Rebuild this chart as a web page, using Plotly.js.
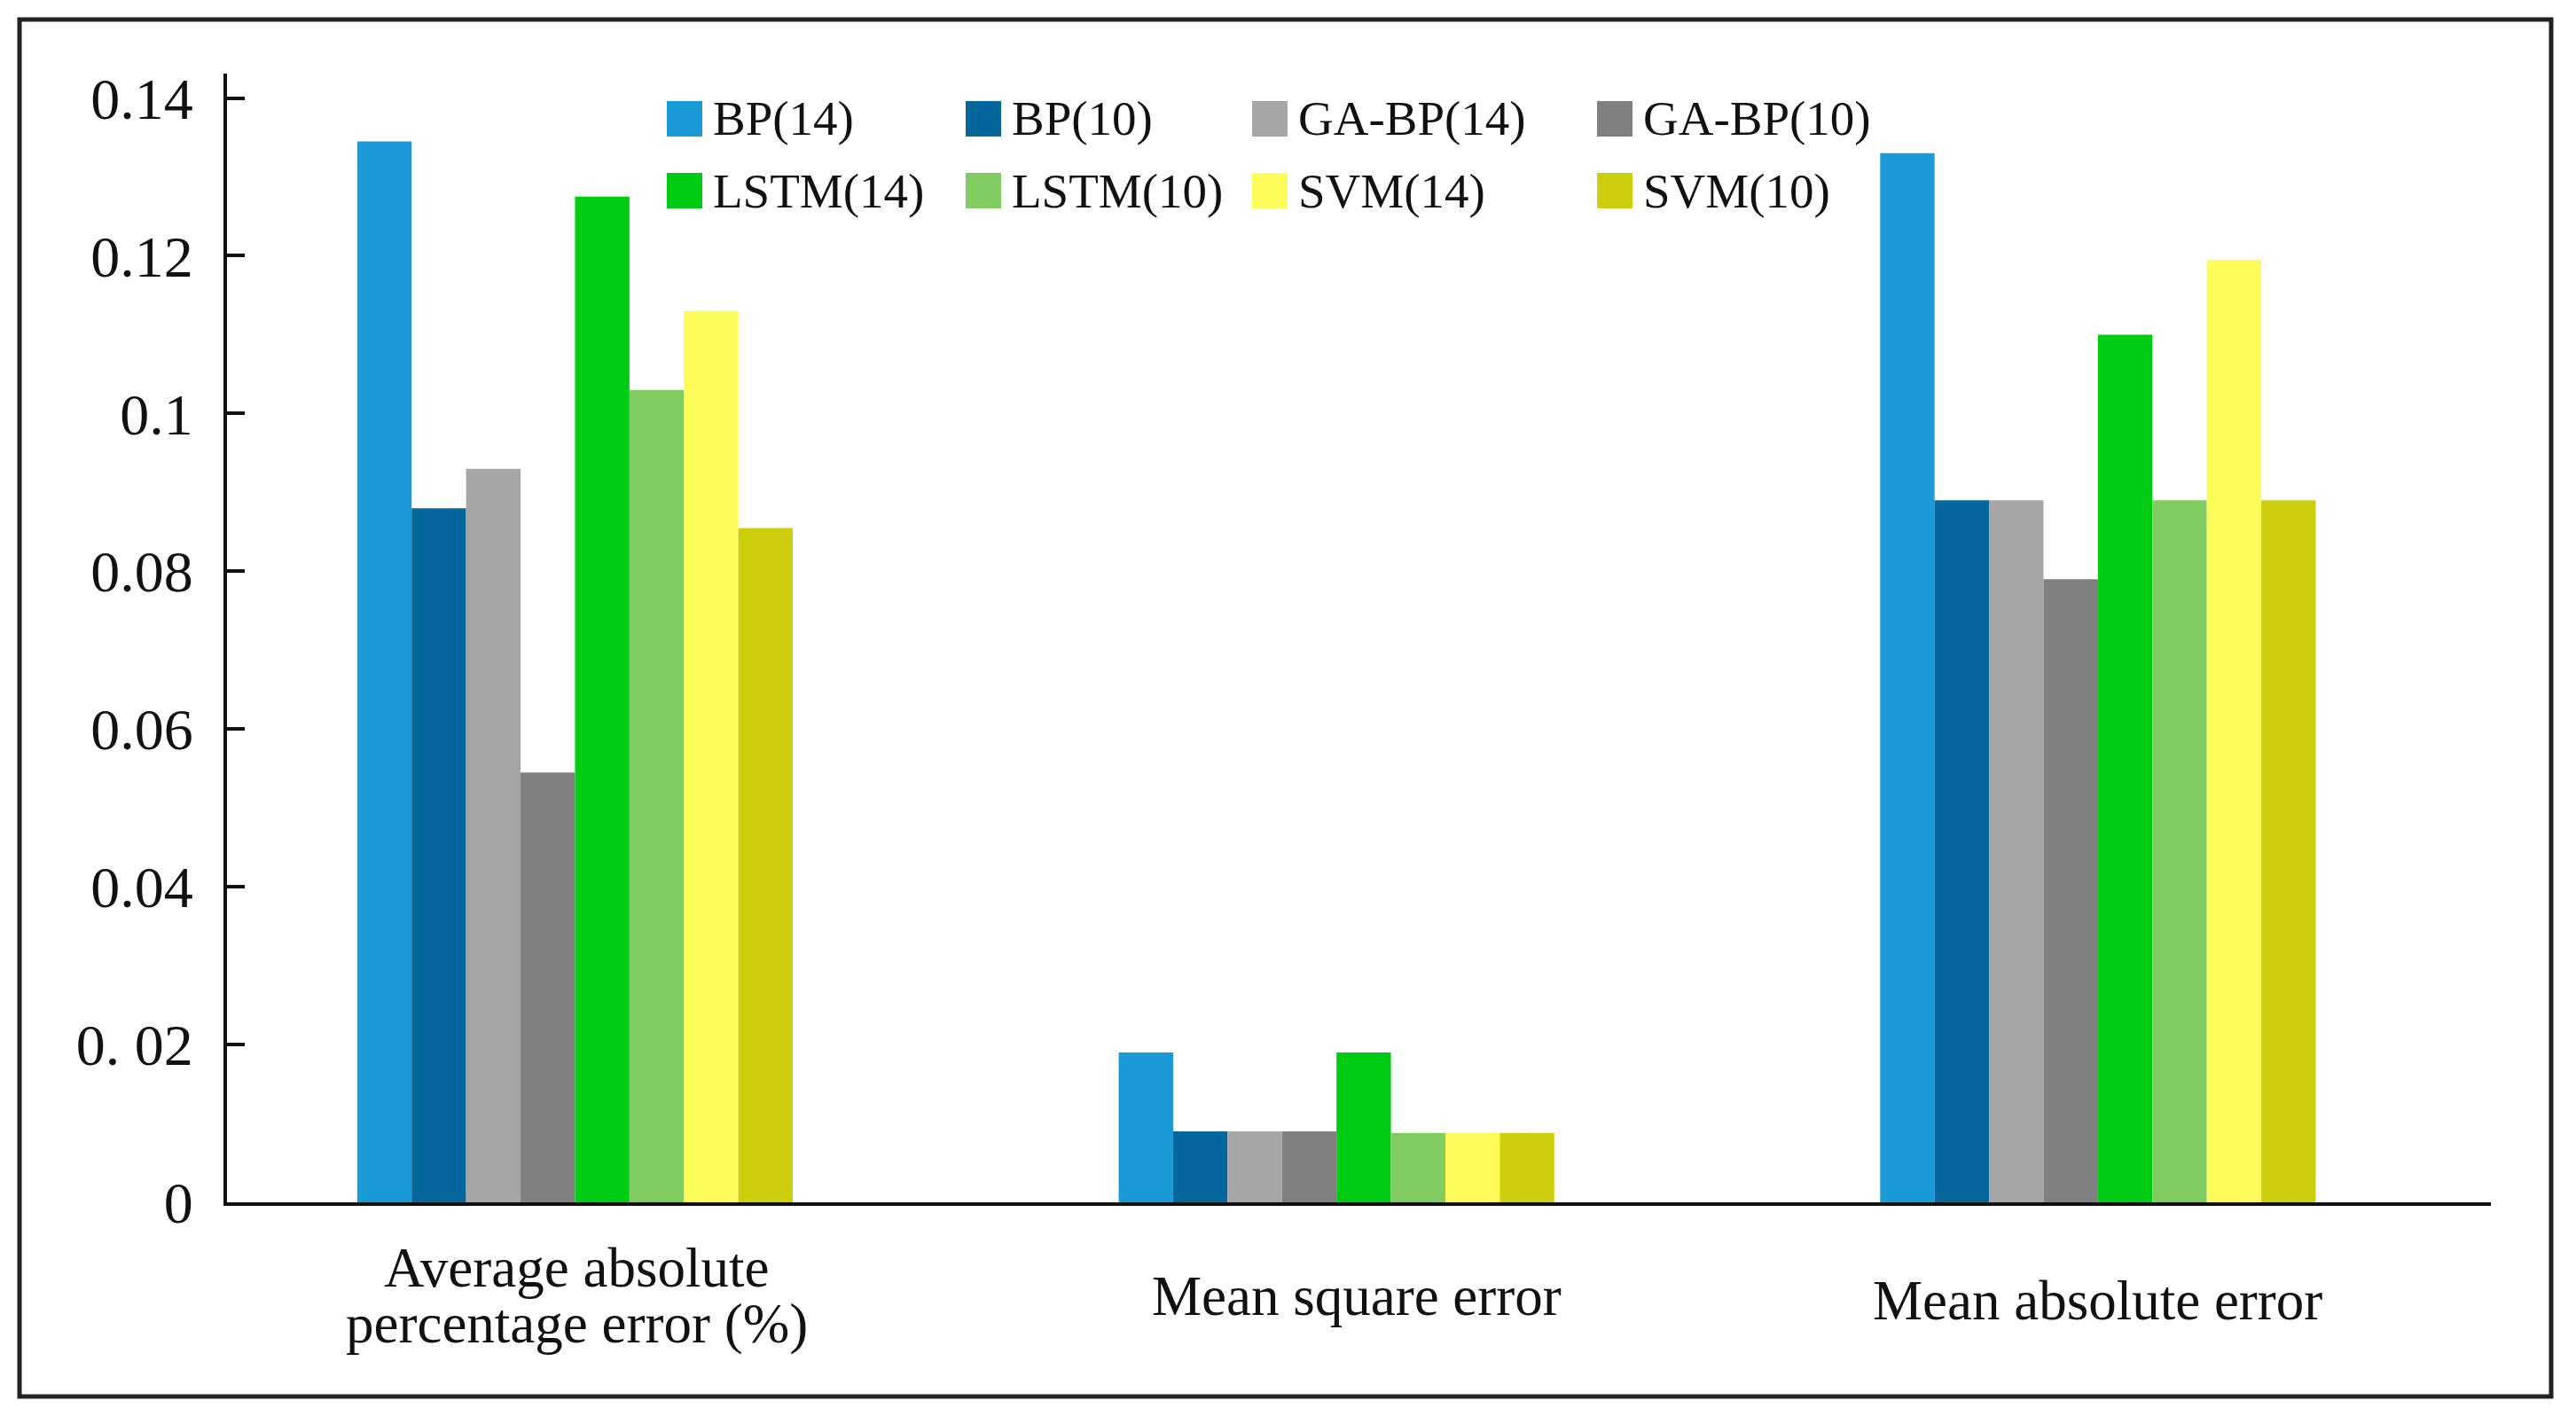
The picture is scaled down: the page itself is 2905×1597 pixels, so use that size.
<!DOCTYPE html>
<html>
<head>
<meta charset="utf-8">
<script src="https://cdn.plot.ly/plotly-3.0.1.min.js"></script>
<style>html,body{margin:0;padding:0;background:#fff;}#chart{width:2905px;height:1597px;}</style>
</head>
<body>
<div id="chart"></div>
<script>
// ---- data ----
const categories = ["Average absolute<br>percentage error (%)", "Mean square error", "Mean absolute error"];
const seriesNames = ["BP(14)", "BP(10)", "GA-BP(14)", "GA-BP(10)", "LSTM(14)", "LSTM(10)", "SVM(14)", "SVM(10)"];
const bp14    = [0.1345, 0.019, 0.133];
const bp10    = [0.088, 0.009, 0.089];
const gabp14  = [0.093, 0.009, 0.089];
const gabp10  = [0.0545, 0.009, 0.079];
const lstm14  = [0.1275, 0.019, 0.110];
const lstm10  = [0.103, 0.0088, 0.089];
const svm14   = [0.113, 0.0088, 0.1195];
const svm10   = [0.0855, 0.0088, 0.089];
const yTickVals = [0, 0.02, 0.04, 0.06, 0.08, 0.1, 0.12, 0.14];
const yTickText = ["0", "0. 02", "0.04", "0.06", "0.08", "0.1", "0.12", "0.14"];

// ---- styling ----
const colors = ["#1a9ad6", "#05679c", "#a6a6a6", "#808080", "#00cc14", "#80cc60", "#fcfc5a", "#cdcf0e"];
const seriesValues = [bp14, bp10, gabp14, gabp10, lstm14, lstm10, svm14, svm10];
const FONT = "Liberation Serif";

const W = 2905, H = 1597;
const M = {l: 256, r: 96, t: 83, b: 241};
const PW = W - M.l - M.r, PH = H - M.t - M.b;
const px2x = p => (p - M.l) / PW;
const px2y = p => (H - M.b - p) / PH;

const traces = seriesNames.map((name, i) => ({
  type: "bar",
  name: name,
  x: categories,
  y: seriesValues[i],
  marker: {color: colors[i], line: {width: 0}},
  showlegend: false,
  hoverinfo: "x+y+name"
}));

const shapes = [];
const annotations = [];

// outer frame
shapes.push({type: "rect", xref: "paper", yref: "paper",
  x0: px2x(22), x1: px2x(2877), y0: px2y(1575), y1: px2y(22),
  line: {color: "#222", width: 5}, fillcolor: "rgba(0,0,0,0)", layer: "below"});

// custom legend (2 rows x 4 columns)
const legCols = [752, 1089, 1412, 1801];
const legRows = [134, 215];
const sw = 40;
seriesNames.forEach((name, i) => {
  const c = i % 4, r = Math.floor(i / 4);
  const x0 = legCols[c], yc = legRows[r];
  shapes.push({type: "rect", xref: "paper", yref: "paper",
    x0: px2x(x0), x1: px2x(x0 + sw), y0: px2y(yc + sw / 2), y1: px2y(yc - sw / 2),
    line: {width: 0}, fillcolor: colors[i]});
  annotations.push({xref: "paper", yref: "paper", x: px2x(x0 + sw + 10), y: px2y(yc),
    xanchor: "left", yanchor: "middle", showarrow: false, text: name,
    font: {family: FONT, size: 55, color: "#111"}});
});

// category labels
const catCenterY = [1461, 1462, 1467];
const catShift = [2, 23, 0];
const lineGap = 63;
categories.forEach((cat, i) => {
  const lines = cat.split("<br>");
  lines.forEach((ln, j) => {
    const yc = catCenterY[i] + (j - (lines.length - 1) / 2) * lineGap;
    annotations.push({xref: "x", yref: "paper", x: cat, y: px2y(yc), xshift: catShift[i],
      xanchor: "center", yanchor: "middle", showarrow: false, text: ln,
      font: {family: FONT, size: 63, color: "#111"}});
  });
});

const layout = {
  width: W, height: H,
  margin: {l: M.l, r: M.r, t: M.t, b: M.b, pad: 0},
  paper_bgcolor: "#fff", plot_bgcolor: "#fff",
  barmode: "group", bargap: 0.428, bargroupgap: 0,
  font: {family: FONT, color: "#111"},
  xaxis: {
    type: "category", range: [-0.457, 2.516],
    showline: true, linecolor: "#111", linewidth: 4,
    ticks: "", showticklabels: false, showgrid: false, zeroline: false, fixedrange: true
  },
  yaxis: {
    range: [0, 0.1431],
    tickvals: yTickVals, ticktext: yTickText,
    ticks: "inside", ticklen: 20, tickwidth: 4, tickcolor: "#111",
    ticklabelstandoff: 21,
    tickfont: {family: FONT, size: 66, color: "#111"},
    showline: true, linecolor: "#111", linewidth: 4,
    showgrid: false, zeroline: false, fixedrange: true
  },
  shapes: shapes,
  annotations: annotations,
  showlegend: false
};

Plotly.newPlot("chart", traces, layout, {displayModeBar: false, staticPlot: true});
</script>
</body>
</html>
